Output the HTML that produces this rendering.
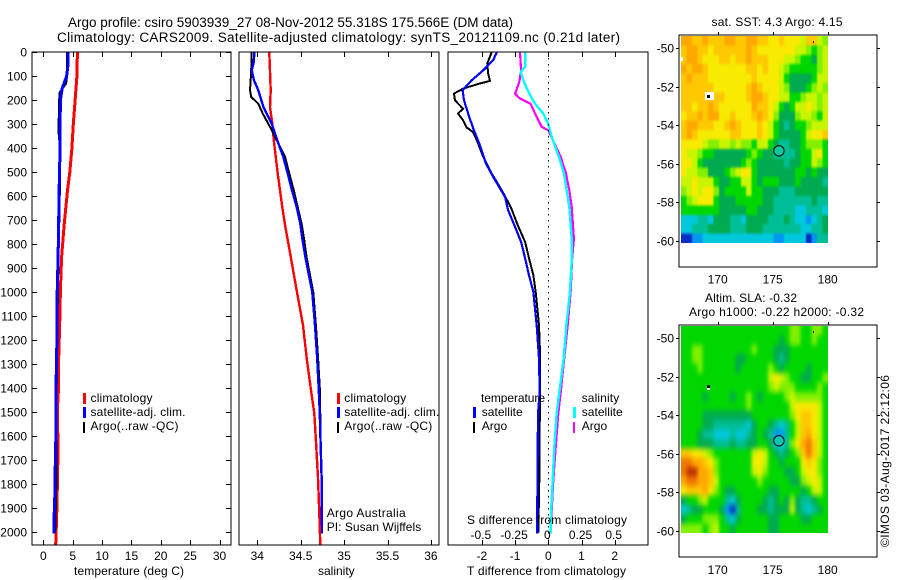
<!DOCTYPE html>
<html>
<head>
<meta charset="utf-8">
<title>Argo profile</title>
<style>
html,body{margin:0;padding:0;background:#fff;}
svg{display:block;}
text{font-family:"Liberation Sans",sans-serif;font-size:12px;fill:#000;}
.frame{fill:none;stroke:#000;stroke-width:1;shape-rendering:crispEdges;}
.title{font-size:13.5px;}
</style>
</head>
<body>
<svg id="chart" xmlns="http://www.w3.org/2000/svg" width="900" height="580" viewBox="0 0 900 580">
<defs>
<clipPath id="clipSst"><rect x="681" y="36" width="147" height="207"/></clipPath>
<clipPath id="clipSla"><rect x="681" y="326" width="147" height="207"/></clipPath>
<filter id="blurSst" filterUnits="userSpaceOnUse" x="640" y="0" width="240" height="300" color-interpolation-filters="sRGB"><feGaussianBlur stdDeviation="0.8 1.2"/></filter>
<filter id="blurSla" filterUnits="userSpaceOnUse" x="640" y="290" width="240" height="290" color-interpolation-filters="sRGB"><feGaussianBlur stdDeviation="1.8 2.8"/></filter>
</defs>
<rect x="0" y="0" width="900" height="580" fill="#fff"/>
<text class="title" x="68" y="27" textLength="445" lengthAdjust="spacing">Argo profile: csiro 5903939_27 08-Nov-2012 55.318S 175.566E (DM data)</text>
<text class="title" x="57" y="42" textLength="563" lengthAdjust="spacing">Climatology: CARS2009. Satellite-adjusted climatology: synTS_20121109.nc (0.21d later)</text>

<g clip-path="url(#clipSst)"><g id="sstCells" filter="url(#blurSst)"></g></g>
<g clip-path="url(#clipSla)"><g id="slaCells" filter="url(#blurSla)"></g></g>
<g id="map1"></g>
<g id="map2"></g>
<g id="series"></g>
<g id="axes"></g>

<rect class="frame" x="32" y="52" width="199" height="493"/>
<rect class="frame" x="239" y="52" width="200" height="493"/>
<rect class="frame" x="448" y="52" width="200" height="493"/>
<rect class="frame" x="679" y="35" width="198" height="232"/>
<rect class="frame" x="679" y="325" width="198" height="232"/>

<text x="74" y="575" textLength="110" lengthAdjust="spacing">temperature (deg C)</text>
<text x="318" y="575">salinity</text>
<text x="467" y="575" textLength="159" lengthAdjust="spacing">T difference from climatology</text>
<text x="467" y="524" textLength="160" lengthAdjust="spacing">S difference from climatology</text>

<g>
<rect x="83" y="393" width="3" height="11" fill="#f00"/>
<rect x="83" y="407" width="3" height="11" fill="#00f"/>
<rect x="83" y="422" width="2" height="11" fill="#000"/>
<text x="90.5" y="402" textLength="62" lengthAdjust="spacing">climatology</text>
<text x="90.5" y="416" textLength="95" lengthAdjust="spacing">satellite-adj. clim.</text>
<text x="90.5" y="430" textLength="88" lengthAdjust="spacing">Argo(..raw -QC)</text>
</g>
<g>
<rect x="337" y="393" width="3" height="11" fill="#f00"/>
<rect x="337" y="407" width="3" height="11" fill="#00f"/>
<rect x="337" y="422" width="2" height="11" fill="#000"/>
<text x="344.3" y="402" textLength="62" lengthAdjust="spacing">climatology</text>
<text x="344.3" y="416" textLength="95" lengthAdjust="spacing">satellite-adj. clim.</text>
<text x="344.3" y="430" textLength="88" lengthAdjust="spacing">Argo(..raw -QC)</text>
<text x="326.7" y="517" textLength="79" lengthAdjust="spacing">Argo Australia</text>
<text x="326.7" y="531" textLength="94.5" lengthAdjust="spacing">PI: Susan Wijffels</text>
</g>
<g>
<rect x="473" y="407" width="3" height="11" fill="#00f"/>
<rect x="473" y="422" width="2" height="11" fill="#000"/>
<rect x="573" y="407" width="3" height="11" fill="#0ff"/>
<rect x="573" y="422" width="2" height="11" fill="#f0f"/>
<text x="481" y="402" textLength="64" lengthAdjust="spacing">temperature</text>
<text x="481.7" y="416" textLength="41" lengthAdjust="spacing">satellite</text>
<text x="481.7" y="430" textLength="25.5" lengthAdjust="spacing">Argo</text>
<text x="581.7" y="402" textLength="37.5" lengthAdjust="spacing">salinity</text>
<text x="581.7" y="416" textLength="41" lengthAdjust="spacing">satellite</text>
<text x="581.7" y="430" textLength="25.5" lengthAdjust="spacing">Argo</text>
</g>

<text x="711.5" y="26" textLength="131" lengthAdjust="spacing">sat. SST: 4.3 Argo: 4.15</text>
<text x="705" y="302" textLength="92" lengthAdjust="spacing">Altim. SLA: -0.32</text>
<text x="689" y="316" textLength="175" lengthAdjust="spacing">Argo h1000: -0.22 h2000: -0.32</text>
<text transform="translate(889,547) rotate(-90)" textLength="172" lengthAdjust="spacing">©IMOS 03-Aug-2017 22:12:06</text>
</svg>

<script>
// ---------- axis tick values ----------
const depthTicks = [0,100,200,300,400,500,600,700,800,900,1000,1100,1200,1300,1400,1500,1600,1700,1800,1900,2000];
const tempTicks = [0,5,10,15,20,25,30];
const salTicks = [34,34.5,35,35.5,36];
const salTickLabels = ['34','34.5','35','35.5','36'];
const tDiffTicks = [-2,-1,0,1,2];
const sDiffTicks = [-0.5,-0.25,0,0.25,0.5];
const sDiffTickLabels = ['-0.5','-0.25','0','0.25','0.5'];
const lonTicks = [170,175,180];
const latTicks = [-50,-52,-54,-56,-58,-60];

// ---------- temperature panel ----------
const tempClimDepth = [0,100,200,300,400,500,575,712,852,992,1130,1270,1408,1500,1650,1900,2050];
const tempClimValue = [5.8,5.7,5.4,5.1,4.85,4.5,4.1,3.56,3.1,2.9,2.77,2.6,2.55,2.37,2.5,2.3,2.1];
const tempSatDepth = [0,50,100,150,200,300,400,500,600,700,850,1000,1100,1200,1400,1500,1650,1750,1850,1950,2005];
const tempSatValue = [4.2,4.2,3.95,3.2,2.9,2.85,2.85,2.75,2.65,2.6,2.5,2.35,2.3,2.3,2.15,2.15,2.1,2.0,1.95,1.8,1.8];
const tempArgoDepth = [0,50,100,130,150,170,250,300,320,400,500,700,1000,1400,1800,2000];
const tempArgoValue = [4.0,4.0,4.0,3.85,3.25,2.75,2.65,2.6,2.55,2.85,2.85,2.7,2.45,2.25,2.2,2.0];

// ---------- salinity panel ----------
const salClimDepth = [0,158,229,296,367,504,646,721,858,1000,1137,1275,1417,1504,1646,1783,1921,2050];
const salClimValue = [34.138,34.154,34.146,34.173,34.19,34.235,34.288,34.32,34.388,34.457,34.527,34.569,34.622,34.657,34.68,34.70,34.714,34.726];
const salSatDepth = [0,40,75,117,158,228,297,367,436,505,575,645,714,776,858,1000,1137,1275,1417,1504,1646,1783,2005];
const salSatValue = [33.965,33.96,33.935,33.962,34.012,34.07,34.166,34.23,34.30,34.35,34.40,34.454,34.495,34.518,34.557,34.634,34.665,34.69,34.71,34.72,34.73,34.742,34.745];
const salArgoDepth = [0,88,158,186,214,255,311,367,436,505,575,645,714,776,858,1000,1137,1275,1400,1700,2000];
const salArgoValue = [33.935,33.928,33.916,33.93,34.012,34.062,34.146,34.223,34.32,34.369,34.42,34.465,34.51,34.538,34.57,34.645,34.675,34.70,34.72,34.735,34.745];

// ---------- difference panel ----------
const tDiffArgoDepth = [0,47,89,119,130,151,172,200,235,255,283,313,332,367,436,505,575,645,721,790,858,929,999,1137,1248,1408,1783,2000];
const tDiffArgoValue = [-1.705,-1.84,-1.81,-1.756,-2.06,-2.56,-2.84,-2.81,-2.57,-2.72,-2.57,-2.46,-2.27,-2.15,-1.96,-1.705,-1.40,-1.13,-0.92,-0.70,-0.58,-0.45,-0.38,-0.28,-0.25,-0.25,-0.27,-0.3];
const tDiffSatDepth = [0,33,75,117,158,200,270,325,380,463,519,603,658,728,790,858,929,999,1068,1137,1275,1417,1504,1879,2005];
const tDiffSatValue = [-1.555,-1.66,-1.96,-2.31,-2.58,-2.54,-2.38,-2.24,-2.08,-1.88,-1.66,-1.30,-1.21,-1.0,-0.82,-0.70,-0.58,-0.45,-0.40,-0.35,-0.28,-0.26,-0.31,-0.33,-0.33];
const sDiffArgoDepth = [0,75,124,172,193,214,270,311,325,367,436,505,575,644,776,858,999,1137,1275,1417,1504,1646,1783,1990];
const sDiffArgoValue = [-0.213,-0.205,-0.218,-0.25,-0.213,-0.133,-0.087,-0.05,0,0.036,0.093,0.133,0.158,0.176,0.193,0.18,0.168,0.146,0.12,0.093,0.075,0.056,0.038,0.018];
const sDiffSatDepth = [0,60,82,124,172,214,255,296,353,436,505,575,644,776,858,999,1068,1137,1275,1417,1504,1646,1783,1921,2005];
const sDiffSatValue = [-0.175,-0.175,-0.208,-0.183,-0.143,-0.10,-0.038,-0.002,0.026,0.08,0.118,0.138,0.158,0.176,0.178,0.163,0.15,0.136,0.116,0.083,0.063,0.045,0.033,0.02,0.018];

// ---------- map grids (colour level per cell, north to south, west to east) ----------
const sstGrid = [
[10,10,9,9,10,9,9,9,10,10,9,9,10,10,9,9,8,8,9,8,8,8,7,9,9,7,6],
[9,10,10,9,9,8,9,9,9,9,9,9,10,9,8,8,8,8,8,8,8,7,7,6,5,6,7],
[9,10,10,9,8,8,8,9,9,8,9,9,10,9,9,9,8,8,8,7,7,6,5,5,4,6,7],
[10,9,10,10,9,8,8,8,8,8,8,8,9,9,8,9,8,8,7,6,5,5,5,5,5,6,7],
[9,10,9,9,9,8,8,8,8,8,8,8,8,9,8,8,8,8,7,5,4,4,4,4,5,7,7],
[9,9,9,9,9,9,8,8,8,8,8,8,9,10,9,8,8,8,7,6,4,4,4,5,6,7,6],
[9,9,9,9,9,9,9,9,8,8,8,8,9,10,10,9,8,8,7,7,5,5,6,7,7,6,7],
[9,9,8,9,9,10,9,8,8,8,8,8,8,10,9,9,8,7,5,4,5,7,7,8,7,6,7],
[8,9,9,10,9,10,10,8,8,9,8,8,8,9,10,9,8,6,4,4,4,6,7,7,6,5,7],
[9,10,10,9,9,9,8,8,9,10,9,8,8,8,9,8,7,5,4,3,4,5,5,6,7,7,7],
[9,10,9,8,8,8,8,8,8,9,9,8,8,8,9,8,7,5,4,4,4,4,5,7,8,8,9],
[8,8,8,8,7,6,6,7,7,6,7,6,6,5,7,7,5,4,3,3,4,4,5,6,6,6,5],
[8,7,7,6,5,5,4,4,4,4,4,4,5,6,5,4,4,3,3,3,3,4,5,5,7,8,5],
[8,8,7,5,4,4,4,4,4,4,4,5,6,5,4,4,4,4,4,3,4,4,5,5,7,6,5],
[8,7,7,6,6,4,4,4,5,6,7,8,8,5,4,4,4,4,4,4,4,5,5,4,5,4,4],
[7,7,8,7,7,7,5,4,4,5,5,7,7,5,4,5,5,5,4,4,4,5,4,4,4,4,3],
[6,7,8,7,8,8,6,4,5,5,5,5,7,5,5,4,4,4,3,3,3,4,4,4,4,4,4],
[5,6,7,8,8,8,5,4,4,4,5,5,5,5,5,4,4,3,3,3,3,3,3,3,4,3,3],
[5,5,5,5,5,5,5,4,4,4,4,4,5,5,4,4,4,3,3,3,3,2,2,3,3,3,2],
[2,2,2,3,3,2,4,4,4,3,3,2,4,4,4,4,3,3,3,4,3,2,2,1,2,3,4],
[2,2,3,3,3,4,4,4,4,3,3,3,4,4,4,3,3,3,3,3,3,3,2,2,3,3,4],
[0,0,1,1,2,2,2,2,2,2,2,2,2,2,2,2,2,1,1,2,2,2,2,0,1,3,3]
];
const slaGrid = [
[5,5,5,5,5,5,5,5,5,5,5,5,5,5,5,5,5,5,5,5,6,6,5,5,6,6,5],
[5,5,5,5,5,5,5,5,5,5,5,5,5,5,5,5,5,5,4,5,6,6,5,5,6,5,5],
[5,5,6,6,5,5,5,5,5,5,5,5,5,6,5,5,5,4,4,4,5,5,5,5,5,5,5],
[5,5,6,6,5,5,5,5,5,5,4,4,5,5,5,5,5,4,3,4,5,5,5,5,5,5,5],
[5,5,5,6,5,5,5,5,5,5,4,5,5,5,5,5,6,5,4,5,5,5,5,4,5,5,5],
[5,5,5,5,5,5,5,5,5,5,5,5,5,5,5,5,7,8,7,6,5,5,4,4,5,5,6],
[5,5,5,5,5,5,5,5,5,5,5,5,5,5,5,5,6,7,6,6,6,5,5,5,5,6,5],
[5,5,5,5,4,5,5,5,5,4,5,5,6,5,4,5,5,5,5,6,7,6,6,6,6,6,5],
[5,5,5,5,5,5,5,5,5,5,5,5,6,5,5,5,5,5,5,5,7,8,8,8,8,7,5],
[5,5,5,5,4,4,4,4,4,4,4,4,4,5,5,5,5,5,5,5,6,8,9,9,8,7,5],
[5,5,5,5,4,4,3,3,3,3,3,3,2,4,5,5,4,3,2,3,5,7,9,9,8,7,5],
[5,5,5,4,3,3,2,2,2,3,2,2,3,4,5,4,3,1,1,3,5,7,9,10,8,7,5],
[5,5,5,4,4,4,3,3,3,4,3,3,4,4,5,5,4,2,2,3,6,8,10,11,9,7,5],
[9,9,8,8,7,6,5,5,5,5,5,5,5,7,8,7,5,4,3,4,5,6,9,11,9,7,5],
[11,11,10,10,9,8,6,5,5,5,5,5,5,8,8,7,5,5,4,5,5,5,8,9,8,6,5],
[11,12,12,10,10,9,6,5,5,5,5,5,5,7,8,6,5,5,5,4,4,5,7,8,8,6,5],
[10,11,11,10,10,9,7,5,5,5,5,5,5,5,6,5,5,5,5,5,4,4,6,7,8,7,5],
[8,9,9,9,10,8,6,5,4,4,5,5,5,5,5,5,4,4,5,5,5,5,4,5,7,7,5],
[4,5,5,6,7,5,5,5,3,2,4,5,5,5,5,4,3,4,5,4,6,4,3,3,4,5,5],
[2,3,4,4,5,5,5,4,1,0,3,5,5,5,4,4,3,4,4,4,7,4,3,2,3,4,5],
[4,5,5,5,6,6,6,5,3,2,4,5,5,5,5,5,4,4,5,5,5,5,4,4,5,5,5],
[6,6,6,6,5,6,7,5,5,4,5,5,5,5,5,5,4,4,5,5,5,5,5,5,5,5,5]
];
const levelColors = ['#0a2cc8','#0096f0','#00c8dc','#00be96','#00aa50','#00d700','#82f000','#c8f500','#f8ea00','#ffc800','#ffa800','#f07800','#be3200'];
const profileLon = 175.566;
const profileLat = -55.318;

// ---------- axis functions ----------
const depthY = d => 52.3 + d * 0.24;
const tempX = t => 43.4 + t * 5.87;
const salX = s => 257.3 + (s - 34) * 86.8;
const tDiffX = t => 548.3 + t * 33.2;
const sDiffX = s => 548.3 + s * 132.8;
const lonX = lon => 717.7 + (lon - 170) * 11;
const sstLatY = lat => 48.3 + (-50 - lat) * 19.27;
const slaLatY = lat => 338.3 + (-50 - lat) * 19.27;

const NS = 'http://www.w3.org/2000/svg';
const seriesG = document.getElementById('series');
const axesG = document.getElementById('axes');

function drawLine(parent, x1, y1, x2, y2, name, color, width) {
  const el = document.createElementNS(NS, 'line');
  
  
  el.setAttribute('x1', x1);
  el.setAttribute('y1', y1);
  el.setAttribute('x2', x2);
  el.setAttribute('y2', y2);
  el.setAttribute('stroke', color);
  el.setAttribute('stroke-width', width);
  el.setAttribute('shape-rendering', 'crispEdges');
  parent.appendChild(el);
  return el;
}
function drawText(parent, x, y, str, anchor, name) {
  const el = document.createElementNS(NS, 'text');
  
  
  el.setAttribute('x', x);
  el.setAttribute('y', y);
  el.setAttribute('text-anchor', anchor);
  el.textContent = str;
  parent.appendChild(el);
}
function drawSeries(depths, values, xFn, color, width, name) {
  const el = document.createElementNS(NS, 'polyline');
  
  
  const pts = depths.map((d, i) => xFn(values[i]).toFixed(1) + ',' + depthY(d).toFixed(1));
  el.setAttribute('points', pts.join(' '));
  el.setAttribute('fill', 'none');
  el.setAttribute('stroke', color);
  el.setAttribute('stroke-width', width);
  el.setAttribute('shape-rendering', 'crispEdges');
  seriesG.appendChild(el);
}
function drawMap(gridRows, group, latY, name) {
  const west = 166.664, dLon = (180 - west) / 27;
  const north = -49.362, dLat = 0.4883;
  const lastRow = gridRows.length - 1;
  gridRows.forEach((row, j) => {
    const lastCol = row.length - 1;
    row.forEach((level, i) => {
      const el = document.createElementNS(NS, 'rect');
      
      
      // edge cells run past the clip so smoothing keeps full colour to the border
      const x0 = lonX(west + i * dLon) - (i === 0 ? 14 : 0);
      const x1 = lonX(west + (i + 1) * dLon) + (i === lastCol ? 14 : 0);
      const y0 = latY(north - j * dLat) - (j === 0 ? 16 : 0);
      const y1 = latY(north - (j + 1) * dLat) + (j === lastRow ? 16 : 0);
      el.setAttribute('x', x0.toFixed(2));
      el.setAttribute('y', y0.toFixed(2));
      el.setAttribute('width', (x1 - x0 + 0.3).toFixed(2));
      el.setAttribute('height', (y1 - y0 + 0.3).toFixed(2));
      el.setAttribute('fill', levelColors[level]);
      el.setAttribute('shape-rendering', 'crispEdges');
      group.appendChild(el);
    });
  });
}
function drawMarker(group, latY, fill, name) {
  const el = document.createElementNS(NS, 'circle');
  
  
  el.setAttribute('cx', lonX(profileLon));
  el.setAttribute('cy', latY(profileLat));
  el.setAttribute('r', 5.2);
  el.setAttribute('fill', fill);
  el.setAttribute('stroke', '#000');
  el.setAttribute('stroke-width', 1);
  group.appendChild(el);
}
function drawPatch(group, x, y, w, h, color, name) {
  const el = document.createElementNS(NS, 'rect');
  
  
  el.setAttribute('x', x);
  el.setAttribute('y', y);
  el.setAttribute('width', w);
  el.setAttribute('height', h);
  el.setAttribute('fill', color);
  group.appendChild(el);
}

// ---------- maps ----------
const map1 = document.getElementById('map1');
const map2 = document.getElementById('map2');
drawMap(sstGrid, document.getElementById('sstCells'), sstLatY, 'sst-cell');
drawPatch(map1, 705, 92, 9, 8, '#fff', 'land-patch');
drawPatch(map1, 681, 57, 2, 4, '#fff', 'land-patch');
drawPatch(map1, 707, 95, 3, 3, '#000', 'island');
drawPatch(map1, 813, 41, 1, 2, '#000', 'island');
drawMarker(map1, sstLatY, '#0ac8a0', 'profile-location-sst');
drawMap(slaGrid, document.getElementById('slaCells'), slaLatY, 'sla-cell');
drawPatch(map2, 707, 387, 3, 3, '#fff', 'land-patch');
drawPatch(map2, 707, 385, 3, 3, '#000', 'island');
drawPatch(map2, 813, 331, 1, 2, '#000', 'island');
drawMarker(map2, slaLatY, '#00c8b4', 'profile-location-sla');

// ---------- series ----------
drawSeries(tempClimDepth, tempClimValue, tempX, '#f00', 3, 'temperature-climatology-line');
drawSeries(tempArgoDepth, tempArgoValue, tempX, '#000', 2.2, 'temperature-argo-line');
drawSeries(tempSatDepth, tempSatValue, tempX, '#00f', 3, 'temperature-satellite-line');
drawSeries(salClimDepth, salClimValue, salX, '#f00', 2.4, 'salinity-climatology-line');
drawSeries(salArgoDepth, salArgoValue, salX, '#000', 2, 'salinity-argo-line');
drawSeries(salSatDepth, salSatValue, salX, '#00f', 2.4, 'salinity-satellite-line');
drawSeries(tDiffArgoDepth, tDiffArgoValue, tDiffX, '#000', 2, 't-difference-argo-line');
drawSeries(tDiffSatDepth, tDiffSatValue, tDiffX, '#00f', 2.2, 't-difference-satellite-line');
drawSeries(sDiffArgoDepth, sDiffArgoValue, sDiffX, '#f0f', 2.2, 's-difference-argo-line');
drawSeries(sDiffSatDepth, sDiffSatValue, sDiffX, '#0ff', 2.4, 's-difference-satellite-line');

// zero reference line on the difference panel
const zeroLine = drawLine(seriesG, tDiffX(0), 52, tDiffX(0), 545, 'zero-difference-line', '#000', 1);
zeroLine.setAttribute('stroke-dasharray', '1.5 4.5');

// ---------- ticks and tick labels ----------
depthTicks.forEach(d => {
  const y = Math.round(depthY(d)) + 0.5;
  drawLine(axesG, 32, y, 37, y, 'depth-tick', '#000', 1);
  drawLine(axesG, 226, y, 231, y, 'depth-tick', '#000', 1);
  drawText(axesG, 27, y + 4, String(d), 'end', 'depth-tick-label');
});
tempTicks.forEach(t => {
  const x = Math.round(tempX(t)) + 0.5;
  drawLine(axesG, x, 52, x, 57, 'temperature-tick', '#000', 1);
  drawLine(axesG, x, 540, x, 545, 'temperature-tick', '#000', 1);
  drawText(axesG, tempX(t), 560, String(t), 'middle', 'temperature-tick-label');
});
salTicks.forEach((s, i) => {
  const x = Math.round(salX(s)) + 0.5;
  drawLine(axesG, x, 52, x, 57, 'salinity-tick', '#000', 1);
  drawLine(axesG, x, 540, x, 545, 'salinity-tick', '#000', 1);
  drawText(axesG, salX(s), 560, salTickLabels[i], 'middle', 'salinity-tick-label');
});
tDiffTicks.forEach(t => {
  const x = Math.round(tDiffX(t)) + 0.5;
  drawLine(axesG, x, 52, x, 57, 't-difference-tick', '#000', 1);
  drawLine(axesG, x, 540, x, 545, 't-difference-tick', '#000', 1);
  drawText(axesG, tDiffX(t), 560, String(t), 'middle', 't-difference-tick-label');
});
sDiffTicks.forEach((s, i) => {
  drawText(axesG, sDiffX(s) - 1, 539, sDiffTickLabels[i], 'middle', 's-difference-tick-label');
});
[[35, 283.5, sstLatY, 'sst'], [325, 574, slaLatY, 'sla']].forEach(cfg => {
  const top = cfg[0], labelY = cfg[1], latY = cfg[2], prefix = cfg[3];
  lonTicks.forEach(lon => {
    const x = Math.round(lonX(lon)) + 0.5;
    drawLine(axesG, x, top - 3, x, top, prefix + '-longitude-tick', '#000', 1);
    drawText(axesG, lonX(lon), labelY, String(lon), 'middle', prefix + '-longitude-tick-label');
  });
  latTicks.forEach(lat => {
    const y = Math.round(latY(lat)) + 0.5;
    drawLine(axesG, 676, y, 679, y, prefix + '-latitude-tick', '#000', 1);
    drawLine(axesG, 877, y, 880, y, prefix + '-latitude-tick', '#000', 1);
    drawText(axesG, 674, y + 4, String(lat), 'end', prefix + '-latitude-tick-label');
  });
});
</script>
</body>
</html>
